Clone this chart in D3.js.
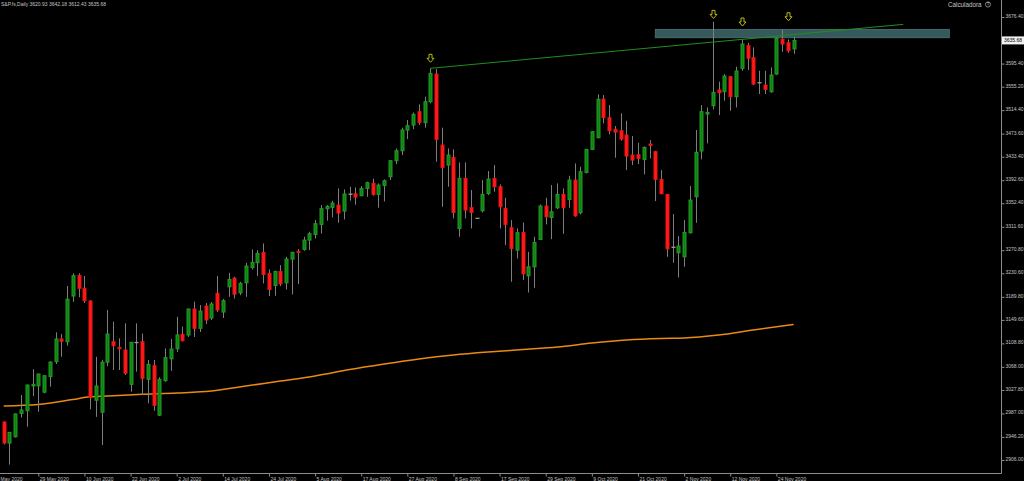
<!DOCTYPE html>
<html>
<meta charset="utf-8">
<head>
<style>
body { margin: 0; background: #000; }
svg { display: block; background: #000; }
text { font: 5px "Liberation Sans", Arial, sans-serif; fill: #c4c4c4; }
</style>
<script src="https://d3js.org/d3.v7.min.js"></script>
</head>
<body>
<svg width="1024" height="481"></svg>
<script>
var symbol = "S&P.fs,Daily";

// daily OHLC, 21 May 2020 .. 27 Nov 2020 (one entry per bar)
var opens = [2972,2935.5,2946.5,2987,2991.7,3034.7,3035,3024,3051,3077,
  3116.4,3111.7,3191.2,3227,3204.6,3182.5,3010,2989,3076,3111.7,
  3102,3097.3,3037.6,3110,3111.7,3046.3,3070,2984,3044,3082,
  3099.5,3124.6,3123.4,3168.6,3135,3173.8,3152.9,3195.8,3163.3,3207.2,
  3222.3,3196.8,3214.2,3240.8,3249,3267,3230.4,3209.5,3233.9,3214.2,
  3255.4,3268.8,3272.2,3288.5,3298.3,3315.7,3343,3345.3,3349.3,3338.9,
  3367.9,3369,3365.6,3378.3,3387,3367.9,3383.5,3398.6,3426.4,3443.8,
  3479.8,3488.5,3511.7,3492.6,3529.1,3577.2,3453.7,3418.9,3432.2,3308.7,
  3395.7,3344.7,3326.1,3339.4,3369.6,3395.7,3381.2,3343.5,3309.9,3271,
  3301.7,3226.3,3242,3289.6,3347.6,3327.8,3344.7,3367.9,3359.2,3392.8,
  3336,3406.1,3446.2,3466.5,3533.7,3501.3,3481,3478.6,3471.1,3436.3,
  3436.9,3428.8,3455.4,3442.1,3394,3367.9,3275.6,3266.4,3259.4,3301.2,
  3363.8,3443.3,3507.6,3522.1,3549.4,3546.5,3572.6,3537.8,3587.1,3626.5,
  3605.6,3561.8,3558,3546.5,3577.2,3637.5,3631.7,3620.93];
var highs = [2973,2955,2987,3019,3037,3064,3056,3053,3077,3128,
  3125,3208.6,3230.7,3230.7,3226,3184,3085.6,3080,3167,3146.5,
  3117.6,3143.7,3111,3143.7,3126,3080,3080,3050,3100,3116.4,
  3155,3138,3169,3181.3,3175.5,3179,3180.7,3225.9,3186,3231.6,
  3224.6,3215.9,3249,3272.2,3271,3282.6,3237.4,3235.1,3244.9,3259.4,
  3268.2,3272.8,3294.3,3303,3323.3,3349.3,3349.3,3356.9,3378.3,3376.6,
  3381.2,3380,3382.4,3389.9,3395.1,3387,3394,3427.6,3447.9,3483.9,
  3497.2,3510.5,3524.5,3537.8,3587.1,3586,3483.9,3447.9,3446.2,3423.5,
  3423.5,3375.4,3327,3392.8,3408.5,3418.9,3385.3,3362,3323.2,3308.7,
  3319.1,3268.1,3294.2,3350.5,3362,3384.1,3387,3378.3,3400.3,3421.8,
  3416,3446.7,3478.1,3541.9,3540.7,3523.3,3486.8,3508.8,3496,3469.4,
  3457.8,3451.2,3462.4,3443.8,3410.2,3368.4,3333.6,3295.4,3323.2,3382.4,
  3479.8,3523.3,3519.2,3668.2,3563.9,3577.2,3573.7,3590,3637.5,3631.7,
  3623.6,3583,3583,3588.8,3641,3654.9,3637.5,3642.18];
var lows = [2933,2898,2945,2980,2964,3017,2990,3022,3033.5,3073,
  3085.6,3104.8,3181,3189,3179,2994,2981,2932,3069,3062.5,
  3062.5,3054,3024.8,3059.6,3019,3004.6,2991.7,2982.5,3042,3061,
  3094,3112,3120,3120,3128.6,3142.5,3149.5,3163.3,3152.9,3189.8,
  3186.9,3192.7,3189.8,3237.4,3225.8,3213,3191,3191.6,3208.4,3202.6,
  3194,3211.9,3269.9,3271,3291.3,3300,3322.1,3327.9,3318.6,3324.4,
  3356.9,3349.9,3365,3363.8,3365.6,3344.7,3355.7,3392.8,3420.7,3436.3,
  3464.1,3481.5,3488.5,3483.9,3526.2,3424.7,3346.4,3381.2,3326.1,3294.2,
  3326.1,3308.7,3325.5,3336.5,3366.7,3372.5,3308.7,3279.7,3215.9,3256.5,
  3218.8,3197.3,3205.5,3288.4,3315.7,3290.1,3342.3,3299.4,3344.7,3329,
  3333.1,3404.4,3445,3465.3,3491.4,3472.3,3431.7,3461.2,3410.2,3418.9,
  3420.6,3402.7,3430.5,3356.3,3368.4,3259.4,3249,3223.4,3242,3300,
  3318.6,3428.8,3456.6,3515.8,3505.9,3530.8,3513.4,3519.2,3583,3584.2,
  3558,3542.4,3542.4,3544.7,3575.5,3616,3614.3,3612.43];
var closes = [2935.6,2954,2986,2993,3036.4,3037.6,3055.6,3052.6,3076.4,3116.4,
  3112.4,3185.5,3226.5,3204.6,3183,3015,3034.7,3076,3125,3104.8,
  3099.5,3057,3110.7,3110.5,3048,3072.4,3001,3046.3,3084,3099,
  3123.4,3113.5,3168.6,3135,3165,3149.5,3177.3,3166.8,3183,3219.9,
  3194.4,3213,3243.2,3249.5,3265.2,3228.7,3202.6,3233.9,3212.4,3255.4,
  3267,3267,3288.5,3299.5,3316.9,3343,3347,3352.8,3335.4,3368.5,
  3368.5,3363.2,3378.3,3388.2,3367.9,3384.1,3391.6,3426.4,3443.8,3479.8,
  3487.3,3507.1,3493.1,3529.1,3578.4,3463.6,3414.8,3436.3,3336.5,3395.7,
  3340.6,3336.5,3326.5,3367.9,3394.5,3381.2,3346.4,3315.7,3273.9,3301.2,
  3229.8,3242,3284.3,3347.6,3329,3337.7,3367.9,3344.7,3392.8,3330.7,
  3407.3,3446.2,3476.9,3533.2,3501.3,3478.6,3476.3,3464.1,3434.6,3427.6,
  3430.5,3449.6,3453.1,3394,3369,3273.3,3276.2,3278,3301.7,3358,
  3441,3511.7,3510.5,3545.3,3544.7,3573.7,3537.8,3582.4,3629.4,3604.5,
  3559.8,3562.4,3550.6,3575.5,3639.2,3629.4,3617.8,3635.68];

// time axis labels (bar index of each label)
var labelBars = [-2,6,14,22,30,38,46,54,62,70,78,86,94,102,110,118,126,134];
var dateLabels = ["19 May 2020","29 May 2020","10 Jun 2020","22 Jun 2020","2 Jul 2020",
  "14 Jul 2020","24 Jul 2020","5 Aug 2020","17 Aug 2020","27 Aug 2020","8 Sep 2020",
  "17 Sep 2020","29 Sep 2020","9 Oct 2020","21 Oct 2020","2 Nov 2020","12 Nov 2020","24 Nov 2020"];

// price scale labels
var priceTicks = [3676.40,3595.40,3555.20,3514.40,3473.60,3433.40,3392.60,3352.40,3311.60,
  3270.80,3230.60,3189.80,3149.60,3108.80,3068.00,3027.80,2987.00,2946.20,2906.00];

// 200 moving average, read at some bars
var maBars = [0,6,12,15,18,24,30,36,42,48,54,60,66,72,78,84,90,96,102,108,114,118,124,130,137];
var maVals = [3000,3002.5,3011.2,3016,3017.3,3020.2,3022.5,3026,3034.6,3043.3,3052,3063.3,3072.9,
  3081.6,3088.6,3093.8,3098.1,3102.5,3109.4,3114.7,3117.3,3118.1,3123.3,3132,3141.6];

// drawn objects
var arrowBars = [74,123,128,136];
var arrowTips = [3597.6,3674,3660.7,3669.9];
var trendBars = [74,156];
var trendPrices = [3587.1,3663.6];
var zoneBars = [113,164];
var zonePrices = [3640.3,3654.9];

var svg = d3.select("svg"),
    axisX = 1001,
    axisY = 473;

var x = d3.scaleLinear().domain([-0.642, 172.96]).range([0, axisX]);
var y = d3.scaleLinear().domain([2906, 3676.4]).range([460, 17]);

var bars = opens.map(function(o, i) {
  return {i: i, o: o, h: highs[i], l: lows[i], c: closes[i]};
});

// resistance zone
svg.append("rect")
    .attr("x", x(zoneBars[0]))
    .attr("y", y(zonePrices[1]))
    .attr("width", x(zoneBars[1]) - x(zoneBars[0]))
    .attr("height", y(zonePrices[0]) - y(zonePrices[1]))
    .attr("fill", "#365a5c")
    .attr("stroke", "#4e7476")
    .attr("stroke-width", 0.8);

// moving average
svg.append("path")
    .datum(maBars.map(function(b, i) { return [b, maVals[i]]; }))
    .attr("fill", "none")
    .attr("stroke", "#ea8a12")
    .attr("stroke-width", 1.5)
    .attr("d", d3.line()
        .curve(d3.curveMonotoneX)
        .x(function(d) { return x(d[0]); })
        .y(function(d) { return y(d[1]); }));

// candles
var candle = svg.selectAll(".candle")
  .data(bars)
  .enter().append("g")
    .attr("class", "candle");

candle.append("line")
    .attr("x1", function(d) { return Math.round(x(d.i)) + 0.5; })
    .attr("x2", function(d) { return Math.round(x(d.i)) + 0.5; })
    .attr("y1", function(d) { return y(d.h); })
    .attr("y2", function(d) { return y(d.l); })
    .attr("stroke", "#7e7e7e")
    .attr("stroke-width", 1);

candle.append("rect")
    .attr("x", function(d) { return Math.round(x(d.i)) - 1; })
    .attr("width", 3)
    .attr("y", function(d) { return y(Math.max(d.o, d.c)); })
    .attr("height", function(d) { return Math.max(0.01, Math.abs(y(d.o) - y(d.c))); })
    .attr("fill", function(d) {
      if (Math.abs(y(d.o) - y(d.c)) < 1) return "#9a9a9a";
      return d.c >= d.o ? "#0d850d" : "#ff1a1a";
    })
    .attr("stroke", function(d) {
      if (Math.abs(y(d.o) - y(d.c)) < 1) return "#9a9a9a";
      return d.c >= d.o ? "#25982a" : "#ee1313";
    })
    .attr("stroke-width", 1);

// trend line
svg.append("line")
    .attr("x1", x(trendBars[0]))
    .attr("y1", y(trendPrices[0]))
    .attr("x2", x(trendBars[1]))
    .attr("y2", y(trendPrices[1]))
    .attr("stroke", "#1f8f1f")
    .attr("stroke-width", 1);

// arrows
svg.selectAll(".arrow")
  .data(arrowBars)
  .enter().append("path")
    .attr("class", "arrow")
    .attr("transform", function(d, i) { return "translate(" + (Math.round(x(d)) + 0.5) + "," + y(arrowTips[i]) + ")"; })
    .attr("d", "M-1.5,-8L1.5,-8L1.5,-4L3.5,-4L0,0L-3.5,-4L-1.5,-4Z")
    .attr("fill", "none")
    .attr("stroke", "#b9b916")
    .attr("stroke-width", 1);

// axes
var yAxis = d3.axisRight(y)
    .tickValues(priceTicks)
    .tickFormat(d3.format(".2f"))
    .tickSize(3)
    .tickPadding(1);

var gy = svg.append("g")
    .attr("transform", "translate(" + (axisX + 0.5) + ",0)")
    .call(yAxis);
gy.select(".domain").remove();
gy.selectAll("line").attr("stroke", "#8c8c8c");
gy.selectAll("text").attr("dy", "0.1em");

var xAxis = d3.axisBottom(x)
    .tickValues(labelBars)
    .tickFormat(function(d, i) { return dateLabels[i]; })
    .tickSize(3)
    .tickPadding(1);

var gx = svg.append("g")
    .attr("transform", "translate(0," + (axisY + 0.5) + ")")
    .call(xAxis);
gx.select(".domain").remove();
gx.selectAll("line").attr("stroke", "#8c8c8c");
gx.selectAll("text").attr("text-anchor", "start").attr("x", 1);

// frame
svg.append("path")
    .attr("d", "M" + (axisX + 0.5) + ",0V" + (axisY + 0.5) + "H0")
    .attr("fill", "none")
    .attr("stroke", "#8c8c8c");

// last price box
var lastPrice = closes[closes.length - 1];
svg.append("rect")
    .attr("x", axisX + 1)
    .attr("y", y(lastPrice) - 4)
    .attr("width", 23)
    .attr("height", 8)
    .attr("fill", "#f2f2f2");
svg.append("text")
    .attr("x", axisX + 3)
    .attr("y", y(lastPrice))
    .attr("dy", "0.35em")
    .style("fill", "#000")
    .text(d3.format(".2f")(lastPrice));

// header
var fmt = d3.format(".2f");
svg.append("text")
    .attr("x", 1)
    .attr("y", 5.5)
    .text(symbol + "  " + [opens, highs, lows, closes].map(function(a) { return fmt(a[a.length - 1]); }).join(" "));

svg.append("text")
    .attr("x", 948)
    .attr("y", 6.5)
    .style("font-size", "6.3px")
    .text("Calculadora");
svg.append("circle")
    .attr("cx", 988)
    .attr("cy", 4.5)
    .attr("r", 2.6)
    .attr("fill", "none")
    .attr("stroke", "#b0b0b0")
    .attr("stroke-width", 0.7);
svg.append("text")
    .attr("x", 988)
    .attr("y", 6.2)
    .attr("text-anchor", "middle")
    .style("font-size", "4.5px")
    .text("?");
</script>
</body>
</html>
